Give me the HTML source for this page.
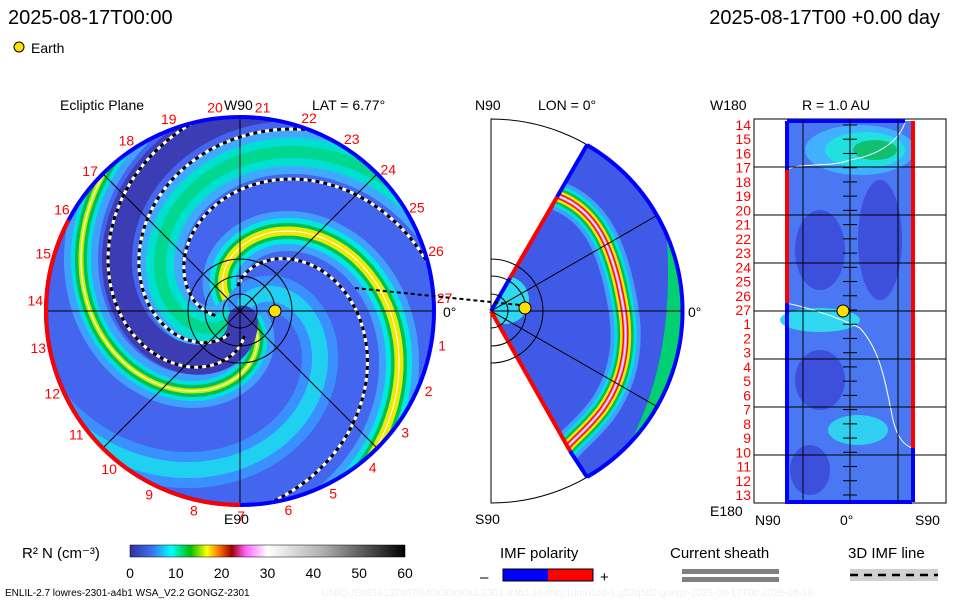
<!DOCTYPE html>
<html><head><meta charset="utf-8"><style>
html,body{margin:0;padding:0;background:#fff;}
svg{display:block;font-family:"Liberation Sans",sans-serif;}
</style></head><body>
<svg id="s" width="960" height="600" viewBox="0 0 960 600">
<defs>
<clipPath id="cc"><circle cx="240" cy="311" r="194"/></clipPath>
<clipPath id="wc"><path d="M491,311 L587,145 A192,192 0 0 1 587,477 Z"/></clipPath>
<linearGradient id="cb" x1="0" x2="1" y1="0" y2="0">
<stop offset="0" stop-color="#3030a0"/><stop offset="0.08" stop-color="#4070f0"/><stop offset="0.15" stop-color="#00ffff"/>
<stop offset="0.22" stop-color="#00c000"/><stop offset="0.28" stop-color="#ffff00"/><stop offset="0.32" stop-color="#ff8000"/>
<stop offset="0.37" stop-color="#a00000"/><stop offset="0.42" stop-color="#ff60ff"/><stop offset="0.5" stop-color="#ffffff"/>
<stop offset="0.7" stop-color="#b0b0b0"/><stop offset="1" stop-color="#000000"/></linearGradient>
</defs>
<text x="8" y="24" font-size="20">2025-08-17T00:00</text>
<text x="940" y="24" font-size="20" text-anchor="end">2025-08-17T00 +0.00 day</text>
<circle cx="19" cy="47" r="5" fill="#ffe000" stroke="#000"/>
<text x="31" y="53" font-size="14">Earth</text>

<text x="60" y="110" font-size="14">Ecliptic Plane</text>
<text x="224" y="110" font-size="14">W90</text>
<text x="312" y="110" font-size="14">LAT = 6.77°</text>
<text x="224" y="524" font-size="14">E90</text>
<text x="443" y="317" font-size="14">0°</text>
<g clip-path="url(#cc)">
<circle cx="240" cy="311" r="194" fill="#4466ee"/>
<g id="arms"></g>
</g>
<g id="leftover"></g>
<circle cx="240" cy="311" r="194" fill="none" stroke="#0000ff" stroke-width="4"/>
<path id="redarc" fill="none" stroke="#ff0000" stroke-width="4"/>
<g id="lonlabels" font-size="14" fill="#ff0000"></g>

<text x="475" y="110" font-size="14">N90</text>
<text x="538" y="110" font-size="14">LON = 0°</text>
<text x="475" y="524" font-size="14">S90</text>
<text x="688" y="317" font-size="14">0°</text>
<path d="M491,119 A192,192 0 0 1 491,503 Z" fill="none" stroke="#000" stroke-width="1"/>
<g clip-path="url(#wc)">
<rect x="480" y="130" width="220" height="360" fill="#3f5ae6"/>
<path id="wband" d="M558,196 C595,210 612,245 622,300 C632,350 620,385 602,410 C585,432 572,440 565,450" fill="none"/>
</g>
<path d="M491,311 L510,278 M557,197 L587,145 M570,451 L587,477" fill="none" stroke="#0000ff" stroke-width="4"/>
<path d="M510,278 L557,197 M491,311 L570,451" fill="none" stroke="#ff0000" stroke-width="4"/>
<path d="M587,145 A192,192 0 0 1 587,477" fill="none" stroke="#0000ff" stroke-width="4"/>
<g id="midover"></g>

<text x="710" y="110" font-size="14">W180</text>
<text x="802" y="110" font-size="14">R = 1.0 AU</text>
<text x="710" y="516" font-size="14">E180</text>
<text x="755" y="525" font-size="14">N90</text>
<text x="840" y="525" font-size="14">0°</text>
<text x="915" y="525" font-size="14">S90</text>
<rect x="754" y="119" width="192" height="384" fill="#fff" stroke="#000"/>
<g>
<rect x="785" y="121" width="130" height="381" fill="#4a78f2"/>
<ellipse cx="860" cy="150" rx="55" ry="25" fill="#40b0ff"/>
<ellipse cx="865" cy="150" rx="40" ry="18" fill="#20e0e0"/>
<ellipse cx="875" cy="150" rx="22" ry="10" fill="#10c070"/>
<ellipse cx="820" cy="320" rx="40" ry="12" fill="#30d8f0"/>
<ellipse cx="858" cy="430" rx="30" ry="15" fill="#30d0f0"/>
<ellipse cx="820" cy="250" rx="25" ry="40" fill="#3c50dc"/>
<ellipse cx="880" cy="240" rx="22" ry="60" fill="#3c50dc"/>
<ellipse cx="820" cy="380" rx="25" ry="30" fill="#3c50dc"/>
<ellipse cx="810" cy="470" rx="20" ry="25" fill="#3c50dc"/>
<path d="M786,170 C800,162 830,168 850,160 C880,155 900,140 905,122" fill="none" stroke="#fff"/>
<path d="M786,303 C810,308 840,318 860,328 C880,350 885,380 893,420 C898,440 905,445 912,448" fill="none" stroke="#fff"/>
</g>
<path d="M787,121 V502 H912 M787,121 H905" fill="none" stroke="#0000ff" stroke-width="4"/>
<path d="M787,170 V303 M913,121 V448" fill="none" stroke="#ff0000" stroke-width="4"/>
<path d="M913,448 V502" stroke="#0000ff" stroke-width="4"/>
<g id="rgrid"></g>
<circle cx="843" cy="311" r="6" fill="#ffe000" stroke="#000"/>
<g id="rlabels" font-size="14" fill="#ff0000" text-anchor="end"></g>

<text x="22" y="558" font-size="15">R² N (cm⁻³)</text>
<rect x="130" y="545" width="275" height="12" fill="url(#cb)" stroke="#000" stroke-width="0.5"/>
<g id="cbticks" font-size="14"></g>
<text x="500" y="558" font-size="15">IMF polarity</text>
<text x="480" y="582" font-size="15">–</text>
<rect x="503" y="569" width="45" height="12" fill="#0000ff"/>
<rect x="548" y="569" width="45" height="12" fill="#ff0000"/>
<rect x="503" y="569" width="90" height="12" fill="none" stroke="#000"/>
<text x="600" y="582" font-size="15">+</text>
<text x="670" y="558" font-size="15">Current sheath</text>
<rect x="682" y="569" width="97" height="5" fill="#808080"/>
<rect x="682" y="577" width="97" height="5" fill="#808080"/>
<text x="848" y="558" font-size="15">3D IMF line</text>
<rect x="850" y="569" width="88" height="12" fill="#d0d0d0"/>
<line x1="850" y1="575" x2="938" y2="575" stroke="#000" stroke-width="2.5" stroke-dasharray="8,6"/>
<text x="5" y="596" font-size="10">ENLIL-2.7 lowres-2301-a4b1 WSA_V2.2 GONGZ-2301</text>
<text x="322" y="596" font-size="10" fill="#f0f0f0">UNIQUE0818132907/640x30x90x1.2301-a4b1.16-mcp1umn1cd-1.g53q5d2.gongz-2025-08-17T00   2025-08-18</text>
</svg>
<script>
const NS="http://www.w3.org/2000/svg";
const lonLabels=[20,21,22,23,24,25,26,27,1,2,3,4,5,6,7,8,9,10,11,12,13,14,15,16,17,18,19];
const mapLabels=[14,15,16,17,18,19,20,21,22,23,24,25,26,27,1,2,3,4,5,6,7,8,9,10,11,12,13];
const cbTicks=[0,10,20,30,40,50,60];
const armAngles=[0,180,-90,90,-140];
const armStyles=[
 [[40,"#3fa0ff"],[26,"#00e8e0"],[16,"#00c050"],[9,"#e0f000"],[4,"#ffe000"],[1,"#ffffff"]],
 [[34,"#3fa0ff"],[20,"#00e0e0"],[12,"#00c050"],[5,"#c0f000"],[1,"#ffffff"]],
 [[44,"#40a8ff"],[28,"#00e0d0"],[12,"#00d890"]],
 [[36,"#3a90ff"],[16,"#20d0f0"]],
 [[30,"#3c3cb4"]]];
const dashAngles=[35,210,245,-60];
const CX=240,CY=311,K=55;
function sp(a,r0,r1){let p=[];for(let r=r0;r<=r1;r+=3){const t=(a*Math.PI/180)+(r-150)/K;p.push((CX+r*Math.cos(t)).toFixed(1)+","+(CY+r*Math.sin(t)).toFixed(1));}return p.join(" ");}
function mk(tag,at,parent){const e=document.createElementNS(NS,tag);for(const k in at)e.setAttribute(k,at[k]);parent.appendChild(e);return e;}
const arms=document.getElementById("arms");
armAngles.forEach((a,i)=>{armStyles[i].forEach(st=>{
 const e=mk("polyline",{points:sp(a,10,260),fill:"none",stroke:st[1],"stroke-width":st[0],"stroke-linecap":"round"},arms);
 
 
});});
dashAngles.forEach(a=>{
 const w=mk("polyline",{points:sp(a,25,200),fill:"none",stroke:"#fff","stroke-width":3},arms);
 
 
 const d=mk("polyline",{points:sp(a,25,200),fill:"none",stroke:"#000","stroke-width":3,"stroke-dasharray":"4,4"},arms);
 
 
});
const lo=document.getElementById("leftover");
[[CX-194,CY,CX+194,CY],[CX,CY-194,CX,CY+194],[CX-137,CY-137,CX+137,CY+137],[CX-137,CY+137,CX+137,CY-137]].forEach(l=>{
 const e=mk("line",{x1:l[0],y1:l[1],x2:l[2],y2:l[3],stroke:"#000","stroke-width":1},lo);
 
 
});
[17,35,52].forEach(r=>{const e=mk("circle",{cx:CX,cy:CY,r:r,fill:"none",stroke:"#000","stroke-width":1},lo);
 
 });
const el=mk("circle",{cx:275,cy:311,r:6,fill:"#ffe000",stroke:"#000"},lo);


const ra=document.getElementById("redarc");
function pt(d,r){const t=d*Math.PI/180;return [(CX+r*Math.cos(t)).toFixed(1),(CY+r*Math.sin(t)).toFixed(1)];}
const p1=pt(90,194),p2=pt(208,194);
ra.setAttribute("d","M"+p1[0]+","+p1[1]+" A194,194 0 0 1 "+p2[0]+","+p2[1]);
const ll=document.getElementById("lonlabels");
lonLabels.forEach((n,i)=>{const d=-97+i*360/27;const p=pt(d,205);
 const e=mk("text",{x:p[0],y:+p[1]+5,"text-anchor":"middle"},ll);e.textContent=n;
 
 });
const wb=document.getElementById("wband").getAttribute("d");
const wc=document.querySelector('g[clip-path="url(#wc)"]');
[[30,"#3fa0ff"],[22,"#00e0e0"],[16,"#00c050"],[11,"#ffe000"],[6,"#e02000"],[3,"#ff80ff"],[1,"#ffffff"]].forEach(st=>{
 const e=mk("path",{d:wb,fill:"none",stroke:st[1],"stroke-width":st[0]},wc);
 
 });
const gr=mk("path",{d:"M660,130 C690,250 690,380 620,480",fill:"none",stroke:"#00d070","stroke-width":22},wc);


const cy2=mk("circle",{cx:505,cy:300,r:24,fill:"#30d8f0"},wc);


const mo=document.getElementById("midover");
[[491,311,683,311],[491,311,656,216],[491,311,656,406]].forEach(l=>{
 const e=mk("line",{x1:l[0],y1:l[1],x2:l[2],y2:l[3],stroke:"#000","stroke-width":1},mo);
 
 });
[17,35,52].forEach(r=>{const e=mk("path",{d:`M491,${311-r} A${r},${r} 0 0 1 491,${311+r}`,fill:"none",stroke:"#000"},mo);
 
 });
const dl=mk("line",{x1:355,y1:288,x2:520,y2:305,stroke:"#000","stroke-width":2,"stroke-dasharray":"4,3"},mo);


const em=mk("circle",{cx:525,cy:308,r:6,fill:"#ffe000",stroke:"#000"},mo);


const rg=document.getElementById("rgrid");
[167,215,263,311,359,407,455].forEach(y=>{const e=mk("line",{x1:754,y1:y,x2:946,y2:y,stroke:"#000"},rg);
 
 });
[803,850,898].forEach(x=>{const e=mk("line",{x1:x,y1:119,x2:x,y2:503,stroke:"#000"},rg);
 
 });
const rl=document.getElementById("rlabels");
mapLabels.forEach((n,i)=>{const y=125+i*(370/26);
 const e=mk("text",{x:751,y:y+5},rl);e.textContent=n;
 
 
 const t=mk("line",{x1:843,y1:y,x2:857,y2:y,stroke:"#000"},rg);
 
 });
const cbt=document.getElementById("cbticks");
cbTicks.forEach(v=>{const x=130+v/60*275;
 const e=mk("text",{x:x,y:578,"text-anchor":"middle"},cbt);e.textContent=v;
 
 });
</script>
</body></html>
